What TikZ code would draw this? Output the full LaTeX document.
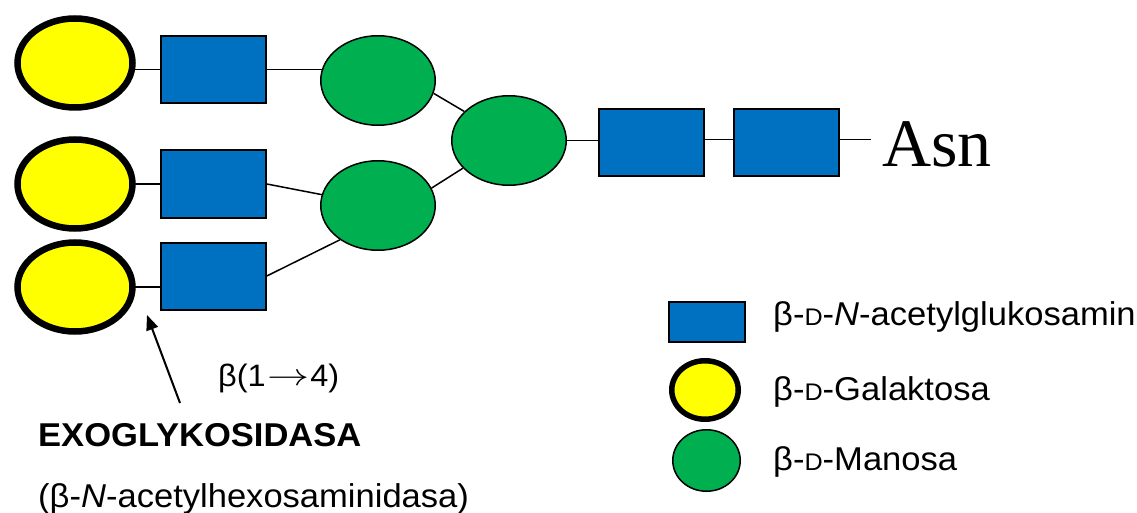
\documentclass[tikz,border=0pt]{standalone}
\usepackage{fontspec}
\setmainfont[FakeStretch=1.047]{Liberation Sans}
\newfontfamily\asnfont{Liberation Serif}
\usetikzlibrary{shapes.geometric,arrows.meta,backgrounds}

\definecolor{glcnac}{RGB}{0,112,192}
\definecolor{gal}{RGB}{255,255,0}
\definecolor{man}{RGB}{0,176,80}

% small-caps D for the D-configuration prefix
\newcommand{\scD}{{\fontsize{24}{24}\selectfont D}}
% long thin arrow used in the linkage label
\newcommand{\linkarrow}{\kern2pt\raisebox{1pt}{\scalebox{1.69}[1.25]{$\rightarrow$}}\kern0.5pt}

\tikzset{
  glcnacbox/.style={rectangle, draw=black, fill=glcnac, line width=2pt,
    minimum width=105pt, minimum height=67pt, inner sep=0pt},
  galnode/.style={ellipse, draw=black, fill=gal, line width=6.5pt,
    minimum width=115pt, minimum height=89pt, inner sep=0pt},
  mannode/.style={ellipse, draw=black, fill=man, line width=1.5pt,
    minimum width=114.5pt, minimum height=89.5pt, inner sep=0pt},
  keybox/.style={glcnacbox, minimum width=76pt, minimum height=40pt},
  keygal/.style={galnode, line width=5.5pt, minimum width=66.5pt, minimum height=58.5pt},
  keyman/.style={mannode, minimum width=67.5pt, minimum height=61.5pt},
  bond/.style={draw=black, line width=1.5pt},
  txt/.style={inner sep=0pt, anchor=base west, font=\fontsize{33}{40}\selectfont},
}

\begin{document}
\begin{tikzpicture}[x=1pt, y=-1pt]
  \useasboundingbox (0,0) rectangle (1137,513);

  % galactose residues
  \node[galnode] (g1) at (75,63) {};
  \node[galnode] (g2) at (75,184) {};
  \node[galnode] (g3) at (75,287) {};

  % N-acetylglucosamine residues of the antennae
  \node[glcnacbox] (b1) at (213.3,69.5) {};
  \node[glcnacbox] (b2) at (213.3,184) {};
  \node[glcnacbox] (b3) at (213.3,276) {};

  % mannose residues
  \node[mannode] (m1) at (378,80.5) {};
  \node[mannode] (m2) at (378,205.5) {};
  \node[mannode] (m3) at (509,140.5) {};

  % chitobiose core
  \node[glcnacbox] (b4) at (651.5,142.5) {};
  \node[glcnacbox] (b5) at (786,142.5) {};

  \node[inner sep=0pt, anchor=base west, font=\asnfont\fontsize{68}{70}\selectfont]
    (asn) at (882,167) {Asn};
  \coordinate (asnbond) at (871,139.5);

  % glycosidic bonds
  \begin{pgfonlayer}{background}
    \draw[bond] (b1.center) -- (b1.center -| g1.center);
    \draw[bond] (b1.center) -- (b1.center -| m1.center);
    \draw[bond] (b2.center) -- (b2.center -| g2.center);
    \draw[bond] (b2.east) -- (m2.center);
    \draw[bond] (g3.center) -- (g3.center -| b3.center);
    \draw[bond] (b3.east) -- (m2.222);
    \draw[bond] (m1.347) -- (m3.147);
    \draw[bond] (m2.18) -- (m3.211);
    \draw[bond] (m3.center) -- (m3.center -| b4.center);
    \draw[bond] ([yshift=3pt]b4.center) -- ([yshift=3pt]b5.center);
    \draw[bond] ([yshift=3pt]b5.center) -- (asnbond);
  \end{pgfonlayer}

  % enzyme and cleavage site
  \node[txt, font=\fontsize{31}{36}\selectfont] (linkage) at (218,386) {β(1\linkarrow4)};
  \node[txt, font=\fontsize{33}{40}\selectfont\bfseries] (exo) at (38,446) {EXOGLYKOSIDASA};
  \node[txt] (enzname) at (38,507) {(β-\textit{N}-acetylhexosaminidasa)};
  \coordinate (arrowtail) at (180,403);
  \coordinate (arrowtip) at (147,315);
  \draw[line width=2pt, -{Triangle[length=15pt,width=12pt]}] (arrowtail) -- (arrowtip);

  % key
  \node[keybox] (kb) at (707,322) {};
  \node[keygal] (kg) at (705,390) {};
  \node[keyman] (km) at (706.5,460.5) {};
  \node[txt] (kbtext) at (773,325.5) {β-\scD-\textit{N}-acetylglukosamin};
  \node[txt] (kgtext) at (773,400) {β-\scD-Galaktosa};
  \node[txt] (kmtext) at (773,470) {β-\scD-Manosa};
\end{tikzpicture}
\end{document}
